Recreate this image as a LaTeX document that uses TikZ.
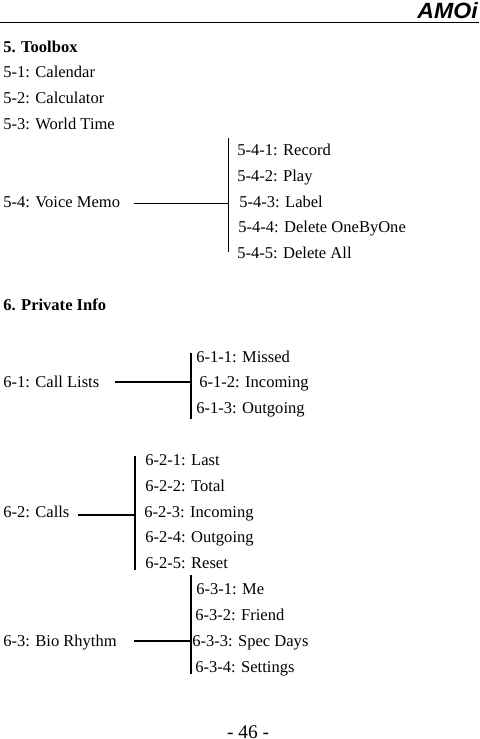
\documentclass[tikz,border=0pt]{standalone}
\usepackage{fontspec}
\setmainfont{Liberation Serif}
\newfontfamily\logofont{Liberation Sans}
\usetikzlibrary{positioning}

\begin{document}
\begin{tikzpicture}[
    x=0.75pt, y=-0.75pt,
    item/.style={anchor=base west, inner sep=0pt, font=\fontsize{12.4pt}{14pt}\selectfont},
    head/.style={item, font=\fontsize{12.4pt}{14pt}\selectfont\bfseries},
    thinbus/.style={line width=0.75pt},
    thickbus/.style={line width=1.5pt}
  ]
  \useasboundingbox (0,0) rectangle (479,739);

  % Page header
  \coordinate (ruleL) at (0,22);
  \coordinate (ruleR) at (479,22);
  \draw[line width=0.75pt] (ruleL) -- (ruleR);
  \node[anchor=base east, inner sep=0pt, xscale=1.05,
        font=\logofont\fontsize{16.5pt}{17pt}\selectfont\bfseries\itshape] (logo) at (478,18) {AMOi};

  % Section 5
  \node[head] (s5) at (3,52) {5. Toolbox};
  \foreach \n/\y/\t in {1/77/Calendar, 2/103/Calculator, 3/129/World Time} {
    \node[item] (m5\n) at (3,\y) {5-\n: \t};
  }
  \node[item] (m54) at (3,207) {5-4: Voice Memo};
  \foreach \n/\x/\y/\t in {
    1/237/155/Record, 2/237/181/Play, 3/239/207/Label,
    4/238/232/Delete OneByOne, 5/237/258/Delete All} {
    \node[item] (m54\n) at (\x,\y) {5-4-\n: \t};
  }
  \coordinate (b54t) at (228,138);
  \coordinate (b54b) at (228,252);
  \coordinate (b54s) at (134,203);
  \coordinate (b54e) at (228,203);
  \draw[thinbus] (b54t) -- (b54b);
  \draw[thinbus] (b54s) -- (b54e);

  % Section 6
  \node[head] (s6) at (3,310) {6. Private Info};

  \node[item] (m61) at (3,387) {6-1: Call Lists};
  \foreach \n/\x/\y/\t in {1/196/362/Missed, 2/199/387/Incoming, 3/196/413/Outgoing} {
    \node[item] (m61\n) at (\x,\y) {6-1-\n: \t};
  }
  \coordinate (b61t) at (191,353);
  \coordinate (b61b) at (191,419);
  \coordinate (b61s) at (115,382);
  \coordinate (b61e) at (191,382);
  \draw[thickbus] (b61t) -- (b61b);
  \draw[thickbus] (b61s) -- (b61e);

  \node[item] (m62) at (3,517) {6-2: Calls};
  \foreach \n/\x/\y/\t in {
    1/145/465/Last, 2/145/491/Total, 3/144/517/Incoming,
    4/145/542/Outgoing, 5/145/568/Reset} {
    \node[item] (m62\n) at (\x,\y) {6-2-\n: \t};
  }
  \coordinate (b62t) at (135,456);
  \coordinate (b62b) at (135,570);
  \coordinate (b62s) at (78,515);
  \coordinate (b62e) at (135,515);
  \draw[thickbus] (b62t) -- (b62b);
  \draw[thickbus] (b62s) -- (b62e);

  \node[item] (m63) at (3,646) {6-3: Bio Rhythm};
  \foreach \n/\x/\y/\t in {
    1/196/594/Me, 2/195/620/Friend, 3/192/646/Spec Days, 4/195/672/Settings} {
    \node[item] (m63\n) at (\x,\y) {6-3-\n: \t};
  }
  \coordinate (b63t) at (191,575);
  \coordinate (b63b) at (191,674);
  \coordinate (b63s) at (134,641);
  \coordinate (b63e) at (191,641);
  \draw[thickbus] (b63t) -- (b63b);
  \draw[thickbus] (b63s) -- (b63e);

  % Page number
  \node[item, anchor=base, font=\fontsize{14.5pt}{16pt}\selectfont] (page) at (248,738) {- 46 -};
\end{tikzpicture}
\end{document}
